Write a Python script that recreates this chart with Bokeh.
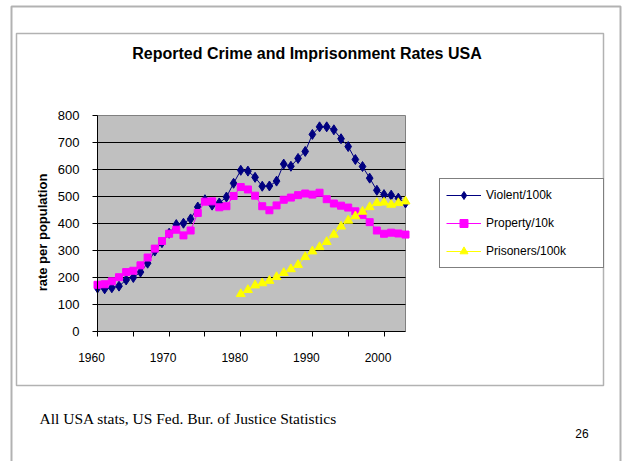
import math
from bokeh.plotting import figure
from bokeh.models import (Range1d, FixedTicker, Legend, LegendItem, Label,
                          BoxAnnotation, ColumnDataSource, LinearAxis)
from bokeh.embed import file_html
from bokeh.resources import INLINE

# ---- data ----
years = list(range(1960, 2004))
violent_per_100k = [161, 158, 162, 168, 191, 200, 220, 253, 298, 329,
                    364, 396, 401, 417, 461, 488, 468, 476, 498, 549,
                    597, 594, 571, 538, 539, 557, 620, 612, 641, 667,
                    730, 758, 758, 747, 714, 685, 637, 611, 568, 523,
                    507, 505, 494, 476]
property_per_10k = [173, 175, 186, 201, 220, 225, 245, 274, 307, 335,
                    362, 377, 356, 374, 439, 481, 482, 460, 464, 502,
                    535, 526, 503, 464, 449, 467, 488, 496, 505, 511,
                    507, 514, 490, 474, 466, 459, 445, 432, 405, 374,
                    362, 366, 363, 359]
prison_years = list(range(1980, 2004))
prisoners_per_100k = [139, 154, 171, 179, 188, 202, 217, 231, 247, 276,
                      297, 313, 332, 359, 389, 411, 427, 444, 461, 476,
                      478, 470, 476, 482]
x_ticks = [1960, 1970, 1980, 1990, 2000]
x_tick_marks = [1960, 1965, 1970, 1975, 1980, 1985, 1990, 1995, 2000]
y_ticks = [0, 100, 200, 300, 400, 500, 600, 700, 800]

title_text = "Reported Crime and Imprisonment Rates USA"
y_label_text = "rate per population"
footnote_text = "All USA stats, US Fed. Bur. of Justice Statistics"
page_number = "26"

# ---- layout (pixels) ----
W, H = 622, 461
PL, PR, PT, PB = 97, 405, 115, 331          # plot-area box on the canvas
X_MIN, X_MAX, Y_MIN, Y_MAX = 1960, 2003, 0, 800
SANS = "Liberation Sans"
SERIF = "Liberation Serif"

kx = (PR - PL) / (X_MAX - X_MIN)
ky = (PB - PT) / (Y_MAX - Y_MIN)
x_start, x_end = X_MIN - PL / kx, X_MAX + (W - PR) / kx
y_start, y_end = Y_MIN - (H - PB) / ky, Y_MAX + PT / ky
label_shift = 6 / kx      # tick labels sit ~6px left of their tick marks


def sy(y):  # canvas y (from top) -> screen units (from bottom)
    return H - y


p = figure(width=W, height=H,
           x_range=Range1d(x_start, x_end), y_range=Range1d(y_start, y_end),
           x_axis_type=None, y_axis_type=None,
           output_backend="svg", toolbar_location=None,
           min_border=0, background_fill_color="white",
           border_fill_color="white", outline_line_color=None)
p.extra_x_ranges = {"xlab": Range1d(x_start + label_shift, x_end + label_shift)}

# plot area background + gridlines
p.quad(left=[X_MIN], right=[X_MAX], bottom=[Y_MIN], top=[Y_MAX],
       fill_color="#C0C0C0", line_color="#808080", line_width=1)
p.segment(x0=[X_MIN] * (len(y_ticks) - 2), x1=[X_MAX] * (len(y_ticks) - 2),
          y0=y_ticks[1:-1], y1=y_ticks[1:-1], line_color="black",
          line_width=1)

# axes
yax = LinearAxis(fixed_location=X_MIN, bounds=(Y_MIN, Y_MAX),
                 ticker=FixedTicker(ticks=y_ticks, minor_ticks=[]))
xax = LinearAxis(fixed_location=Y_MIN, bounds=(X_MIN, X_MAX),
                 ticker=FixedTicker(ticks=[], minor_ticks=x_tick_marks))
xlab = LinearAxis(fixed_location=Y_MIN, bounds=(X_MIN, X_MAX),
                  x_range_name="xlab",
                  ticker=FixedTicker(ticks=x_ticks, minor_ticks=[]))
for ax in (yax, xax, xlab):
    ax.axis_line_color = "black"
    ax.major_tick_line_color = "black"
    ax.minor_tick_line_color = "black"
    ax.major_tick_out = 5
    ax.major_tick_in = 0
    ax.minor_tick_out = 5
    ax.minor_tick_in = 0
    ax.major_label_text_font = SANS
    ax.major_label_text_font_size = "12px"
    ax.major_label_text_color = "black"
    ax.major_label_standoff = 14
yax.major_label_text_font_size = "13px"
yax.major_label_standoff = 13
xlab.axis_line_color = None
xlab.major_tick_line_color = None
xlab.minor_tick_line_color = None
xlab.major_tick_out = 0
xlab.minor_tick_out = 0
xlab.major_label_standoff = 21
p.add_layout(yax, "left")
p.add_layout(xax, "below")
p.add_layout(xlab, "below")

# series
src_v = ColumnDataSource(dict(x=years, y=violent_per_100k))
src_p = ColumnDataSource(dict(x=years, y=property_per_10k))
src_j = ColumnDataSource(dict(x=prison_years, y=prisoners_per_100k))

lv = p.line("x", "y", source=src_v, color="#000080", line_width=1)
mv = p.scatter("x", "y", source=src_v, marker="diamond", size=10,
               color="#000080")
lp = p.line("x", "y", source=src_p, color="#FF00FF", line_width=1)
mp = p.scatter("x", "y", source=src_p, marker="square", size=7,
               color="#FF00FF")
lj = p.line("x", "y", source=src_j, color="#FFFF00", line_width=1)
mj = p.scatter("x", "y", source=src_j, marker="triangle", size=9,
               color="#FFFF00")

# borders
p.add_layout(BoxAnnotation(left=11, right=620, top=sy(6), bottom=-20,
                           left_units="screen", right_units="screen",
                           top_units="screen", bottom_units="screen",
                           fill_color=None, line_color="black", line_width=2))
p.add_layout(BoxAnnotation(left=16, right=603, top=sy(33), bottom=sy(385),
                           left_units="screen", right_units="screen",
                           top_units="screen", bottom_units="screen",
                           fill_color=None, line_color="black",
                           line_width=1.5))

legend = Legend(items=[
    LegendItem(label="Violent/100k", renderers=[lv, mv]),
    LegendItem(label="Property/10k", renderers=[lp, mp]),
    LegendItem(label="Prisoners/100k", renderers=[lj, mj]),
], location=(439, sy(268)), padding=6, spacing=8, glyph_width=35,
   glyph_height=20, label_height=20, label_width=111, label_standoff=5,
   margin=0, label_text_font=SANS, label_text_font_size="12px",
   label_text_color="black", border_line_color="black", border_line_width=1,
   background_fill_color="white", background_fill_alpha=1)
p.add_layout(legend)

# texts
p.add_layout(Label(x=306.5, y=sy(53), x_units="screen", y_units="screen",
                   text=title_text, text_font=SANS, text_font_size="16px",
                   text_font_style="bold", text_align="center",
                   text_baseline="middle", text_color="black"))
p.add_layout(Label(x=41.5, y=sy(232), x_units="screen", y_units="screen",
                   text=y_label_text, text_font=SANS, text_font_size="13px",
                   text_font_style="bold", text_align="center",
                   text_baseline="middle", angle=math.pi / 2,
                   text_color="black"))
p.add_layout(Label(x=39, y=sy(418), x_units="screen", y_units="screen",
                   text=footnote_text, text_font=SERIF,
                   text_font_size="15.5px",
                   text_align="left", text_baseline="alphabetic",
                   text_color="black"))
p.add_layout(Label(x=581.5, y=sy(433), x_units="screen", y_units="screen",
                   text=page_number, text_font=SANS, text_font_size="12px",
                   text_align="center", text_baseline="middle",
                   text_color="black"))

open("out.html", "w").write(file_html(p, INLINE))
